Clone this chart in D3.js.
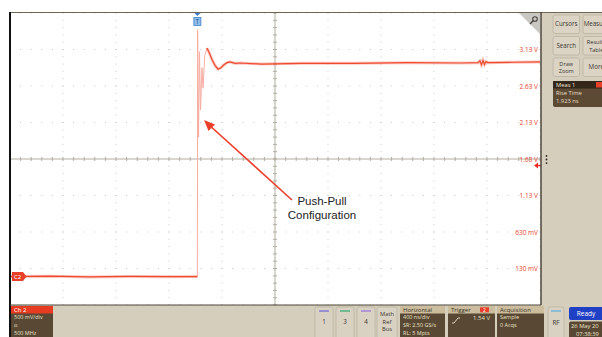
<!DOCTYPE html>
<html>
<head>
<meta charset="utf-8">
<script src="https://cdn.jsdelivr.net/npm/d3@7"></script>
<style>
  html, body { margin: 0; padding: 0; background: #ffffff; }
  svg { display: block; }
  text { font-family: "Open Sans", "DejaVu Sans", sans-serif; }
  text.note { font-family: "Liberation Sans", Arial, sans-serif; }
</style>
</head>
<body>
<svg id="scope" width="602" height="337"></svg>
<script>
// ---- Channel 2 acquisition (time in ns, relative to screen centre; volts) ----
const lowTime   = [-2000, -1700, -1400, -1100, -800, -600, -586];
const lowVolts  = [0.020, 0.025, 0.015, 0.022, 0.018, 0.020, 0.020];

// fast edge + first ringing (dim persistence)
const edgeTime  = [-586, -584, -577, -570, -562, -551, -543, -530, -513];
const edgeVolts = [0.020, 3.40, 1.93, 3.10, 2.30, 2.88, 2.60, 3.05, 3.15];

// settled level
const highTime  = [-513, -495, -475, -452, -430, -408, -385, -362, -340, -300, -264, -100, 200, 600, 1000, 1400, 1532, 1547, 1558, 1570, 1581, 1592, 1607, 1800, 2000];
const highVolts = [3.15, 3.08, 2.99, 2.91, 2.86, 2.88, 2.92, 2.95, 2.96, 2.94, 2.945, 2.93, 2.94, 2.94, 2.95, 2.945, 2.95, 2.975, 2.92, 2.98, 2.925, 2.965, 2.95, 2.955, 2.96];

// vertical graticule labels (500 mV/div, centre 1.63 V)
const voltTicks  = [3.13, 2.63, 2.13, 1.63, 1.13, 0.63, 0.13];
const voltLabels = ["3.13 V", "2.63 V", "2.13 V", "1.63 V", "1.13 V", "630 mV", "130 mV"];

const triggerTime = -586;   // ns
const triggerLevel = 1.54;  // V

// readouts
const sideButtons = [["Cursors"], ["Measure"], ["Search"], ["Results", "Table"], ["Draw", "Zoom"], ["More"]];
const measLines   = ["Meas 1", "Rise Time", "1.923 ns"];
const ch2Lines    = ["Ch 2", "500 mV/div", "⍝", "500 MHz"];
const horizLines  = ["Horizontal", "400 ns/div", "SR: 2.50 GS/s", "RL: 5 Mpts"];
const acqLines    = ["Acquisition", "Sample", "0 Acqs"];
const chanButtons = [{label: "1", color: "#6f63d8"}, {label: "3", color: "#2fa871"}, {label: "4", color: "#9a6fe0"}];

// ---- layout ----
const svg = d3.select("#scope");
const W = 602, H = 337;
const plot = {left: 10, right: 540, top: 13, bottom: 305};

const x = d3.scaleLinear().domain([-2000, 2000]).range([plot.left, plot.right]);
const y = d3.scaleLinear().domain([1.63 - 2.0, 1.63 + 2.0]).range([plot.bottom, plot.top]);

const traceColor = "#ee4a2e";
const panelBg = "#d5cebd";
const brown = "#594834";

// background panels
svg.append("rect").attr("x", 0).attr("y", 0).attr("width", W).attr("height", H).attr("fill", "#ffffff");
svg.append("rect").attr("x", plot.left).attr("y", plot.bottom).attr("width", W - plot.left).attr("height", H - plot.bottom).attr("fill", panelBg);
svg.append("rect").attr("x", plot.right + 1).attr("y", 12).attr("width", W - plot.right - 1).attr("height", plot.bottom - 12).attr("fill", panelBg);

// ---- graticule ----
const g = svg.append("g");
const majorT = d3.range(-2000, 2001, 400);
const minorT = d3.range(-2000, 2001, 80);
const majorV = d3.range(-0.37, 3.64, 0.5);
const minorV = d3.range(-0.37, 3.64, 0.1);

// dotted division lines
majorV.forEach(v => {
  if (Math.abs(v - 1.63) < 1e-6) return;
  minorT.forEach(t => {
    g.append("rect").attr("x", x(t) - 0.5).attr("y", y(v) - 0.5).attr("width", 1).attr("height", 1).attr("fill", "#c9c9c9");
  });
});
majorT.forEach(t => {
  if (t === 0) return;
  minorV.forEach(v => {
    g.append("rect").attr("x", x(t) - 0.5).attr("y", y(v) - 0.5).attr("width", 1).attr("height", 1).attr("fill", "#c9c9c9");
  });
});
// centre cross with minor ticks
g.append("line").attr("x1", plot.left).attr("x2", plot.right).attr("y1", y(1.63)).attr("y2", y(1.63)).attr("stroke", "#b3ada0").attr("stroke-width", 1);
g.append("line").attr("x1", x(0)).attr("x2", x(0)).attr("y1", plot.top).attr("y2", plot.bottom).attr("stroke", "#b3ada0").attr("stroke-width", 1);
minorT.forEach(t => {
  g.append("line").attr("x1", x(t)).attr("x2", x(t)).attr("y1", y(1.63) - 2).attr("y2", y(1.63) + 2).attr("stroke", "#b3ada0");
});
minorV.forEach(v => {
  g.append("line").attr("x1", x(0) - 2).attr("x2", x(0) + 2).attr("y1", y(v)).attr("y2", y(v)).attr("stroke", "#b3ada0");
});

// ---- waveform ----
const line = d3.line().x(d => x(d[0])).y(d => y(d[1]));
const lowPts  = d3.zip(lowTime, lowVolts);
const edgePts = d3.zip(edgeTime, edgeVolts);
const highPts = d3.zip(highTime, highVolts);

svg.append("path").attr("d", line(edgePts)).attr("fill", "none").attr("stroke", "#f7aea2").attr("stroke-width", 1);
[lowPts, highPts].forEach(pts => {
  svg.append("path").attr("d", line(pts)).attr("fill", "none").attr("stroke", traceColor).attr("stroke-opacity", 0.3).attr("stroke-width", 3);
  svg.append("path").attr("d", line(pts)).attr("fill", "none").attr("stroke", traceColor).attr("stroke-width", 1.2);
});

// ---- volt labels ----
svg.append("g").selectAll("text").data(voltTicks).join("text")
  .attr("x", 538).attr("y", d => y(d) + 2.5)
  .attr("text-anchor", "end").attr("font-size", 6.5).attr("fill", "#e8442c")
  .text((d, i) => voltLabels[i]);

// trigger level marker
const ty = y(triggerLevel);
svg.append("path").attr("d", `M${plot.right - 6},${ty} L${plot.right - 2},${ty - 3} L${plot.right - 2},${ty + 3} Z M${plot.right - 3},${ty - 0.7} h4 v1.4 h-4 Z`).attr("fill", "#e8302a");

// trigger position marker
const tx = x(triggerTime);
svg.append("path").attr("d", `M${tx - 3},${plot.top} L${tx + 3},${plot.top} L${tx},${plot.top + 3} Z`).attr("fill", "#3b7fd0");
svg.append("rect").attr("x", tx - 3.5).attr("y", plot.top + 4.5).attr("width", 7).attr("height", 8).attr("fill", "#8fbde9").attr("stroke", "#3b7fd0").attr("stroke-width", 0.8);
svg.append("text").attr("x", tx).attr("y", plot.top + 11).attr("text-anchor", "middle").attr("font-size", 6.5).attr("fill", "#1f4f9a").text("T");

// channel ground marker
const cy = y(lowVolts[0]);
svg.append("path").attr("d", `M12,${cy - 4.5} h11 l3.5,4.5 l-3.5,4.5 h-11 Z`).attr("fill", "#e8402a");
svg.append("text").attr("x", 17.5).attr("y", cy + 2.3).attr("text-anchor", "middle").attr("font-size", 6).attr("fill", "#ffffff").text("C2");

// zoom corner
svg.append("path").attr("d", `M${plot.right - 21},${plot.top} L${plot.right},${plot.top} L${plot.right},${plot.top + 21} Z`).attr("fill", "#c9c7c2");
svg.append("circle").attr("cx", plot.right - 5).attr("cy", plot.top + 6).attr("r", 2.3).attr("fill", "none").attr("stroke", "#4a4540").attr("stroke-width", 1.1);
svg.append("line").attr("x1", plot.right - 6.6).attr("y1", plot.top + 7.6).attr("x2", plot.right - 10).attr("y2", plot.top + 11).attr("stroke", "#4a4540").attr("stroke-width", 1.4);

// ---- annotation ----
const ann = svg.append("g");
ann.append("line").attr("x1", 292).attr("y1", 200).attr("x2", 208).attr("y2", 124).attr("stroke", "#eb3f2b").attr("stroke-width", 1.6);
ann.append("path").attr("d", "M204,120 L215,124.5 L208.5,131 Z").attr("fill", "#eb3f2b");
ann.append("text").attr("class", "note").attr("x", 322).attr("y", 205).attr("text-anchor", "middle").attr("font-size", 11.5).attr("fill", "#222").text("Push-Pull");
ann.append("text").attr("class", "note").attr("x", 322).attr("y", 219).attr("text-anchor", "middle").attr("font-size", 11.5).attr("fill", "#222").text("Configuration");

// ---- frame ----
svg.append("line").attr("x1", plot.left).attr("x2", W).attr("y1", 12.5).attr("y2", 12.5).attr("stroke", "#6f6656").attr("stroke-width", 1);
svg.append("line").attr("x1", 10).attr("x2", 10).attr("y1", 12).attr("y2", H).attr("stroke", "#111").attr("stroke-width", 2);
svg.append("line").attr("x1", plot.right + 1).attr("x2", plot.right + 1).attr("y1", 12).attr("y2", plot.bottom).attr("stroke", "#4d463b").attr("stroke-width", 1.5);
svg.append("line").attr("x1", plot.left).attr("x2", plot.right + 1).attr("y1", plot.bottom).attr("y2", plot.bottom).attr("stroke", "#4d463b").attr("stroke-width", 1);

// ---- side panel ----
const side = svg.append("g");
sideButtons.forEach((b, i) => {
  const col = i % 2, row = Math.floor(i / 2);
  const bx = 553 + col * 30, by = 15 + row * 21.5, bw = 26.5, bh = 18.5;
  side.append("rect").attr("x", bx).attr("y", by).attr("width", bw).attr("height", bh).attr("rx", 2).attr("fill", "#dbd4c5").attr("stroke", "#bdb4a2").attr("stroke-width", 0.8);
  const fs = b.length > 1 ? 5.6 : 6.2;
  b.forEach((t, k) => {
    side.append("text").attr("x", bx + bw / 2).attr("y", by + bh / 2 + 2.2 + (k - (b.length - 1) / 2) * 7.6)
      .attr("text-anchor", "middle").attr("font-size", fs).attr("fill", "#3a3530").text(t);
  });
});
side.append("rect").attr("x", 553).attr("y", 81).attr("width", 52).attr("height", 26).attr("rx", 2).attr("fill", "#5c4a35");
side.append("rect").attr("x", 553).attr("y", 81).attr("width", 52).attr("height", 7.5).attr("fill", "#33261a");
side.append("rect").attr("x", 596).attr("y", 82).attr("width", 8).attr("height", 5.5).attr("fill", "#e8402a");
measLines.forEach((t, k) => {
  side.append("text").attr("x", 556).attr("y", 87 + k * 8).attr("font-size", 5.8).attr("fill", k === 0 ? "#f2ead8" : "#eadfc6").text(t);
});
// handle dots
[0, 1, 2].forEach(k => side.append("circle").attr("cx", 546.5).attr("cy", 159.5 + (k - 1) * 3.6).attr("r", 0.9).attr("fill", "#2a2520"));

// ---- bottom bar ----
const bot = svg.append("g");
function readout(bx, bw, lines, headColor, headText) {
  bot.append("rect").attr("x", bx).attr("y", 306).attr("width", bw).attr("height", 31).attr("fill", brown);
  bot.append("rect").attr("x", bx).attr("y", 306).attr("width", bw).attr("height", 7.5).attr("fill", headColor);
  bot.append("text").attr("x", bx + 3).attr("y", 312).attr("font-size", 6).attr("fill", headText).text(lines[0]);
  lines.slice(1).forEach((t, k) => {
    bot.append("text").attr("x", bx + 3).attr("y", 319.2 + k * 7.7).attr("font-size", 5.5).attr("fill", "#ece2c8").text(t);
  });
}
readout(11, 42, ch2Lines, "#e63c22", "#ffffff");
readout(400, 45, horizLines, "#cbbd9e", "#3a3024");
readout(448, 47, ["Trigger"], "#cbbd9e", "#3a3024");
readout(497, 47, acqLines, "#cbbd9e", "#3a3024");
// trigger readout body
bot.append("rect").attr("x", 480).attr("y", 307.3).attr("width", 9).attr("height", 5).attr("fill", "#e8402a");
bot.append("text").attr("x", 484.5).attr("y", 311.6).attr("text-anchor", "middle").attr("font-size", 5).attr("fill", "#fff").text("2");
bot.append("path").attr("d", "M452,323 h2 l4,-5 h2").attr("fill", "none").attr("stroke", "#ece2c8").attr("stroke-width", 0.9);
bot.append("text").attr("x", 490).attr("y", 320).attr("text-anchor", "end").attr("font-size", 6).attr("fill", "#ece2c8").text(triggerLevel.toFixed(2) + " V");

// channel buttons
chanButtons.forEach((c, i) => {
  const bx = 315 + i * 21;
  bot.append("rect").attr("x", bx).attr("y", 307).attr("width", 18).attr("height", 32).attr("rx", 2).attr("fill", "#d9d2c3").attr("stroke", "#bdb4a2").attr("stroke-width", 0.8);
  bot.append("line").attr("x1", bx + 4).attr("x2", bx + 14).attr("y1", 311).attr("y2", 311).attr("stroke", c.color).attr("stroke-width", 1.2);
  bot.append("text").attr("x", bx + 9).attr("y", 324).attr("text-anchor", "middle").attr("font-size", 6.3).attr("fill", "#3a3530").text(c.label);
});
bot.append("rect").attr("x", 377).attr("y", 307).attr("width", 20).attr("height", 32).attr("rx", 2).attr("fill", "#d9d2c3").attr("stroke", "#bdb4a2").attr("stroke-width", 0.8);
["Math", "Ref", "Bus"].forEach((t, k) => bot.append("text").attr("x", 387).attr("y", 316 + k * 7.5).attr("text-anchor", "middle").attr("font-size", 5.8).attr("fill", "#3a3530").text(t));

// RF button
bot.append("rect").attr("x", 548).attr("y", 307).attr("width", 16).attr("height", 32).attr("rx", 2).attr("fill", "#d9d2c3").attr("stroke", "#bdb4a2").attr("stroke-width", 0.8);
bot.append("line").attr("x1", 551).attr("x2", 561).attr("y1", 311).attr("y2", 311).attr("stroke", "#5aaede").attr("stroke-width", 1.2);
bot.append("text").attr("x", 556).attr("y", 325).attr("text-anchor", "middle").attr("font-size", 6.3).attr("fill", "#3a3530").text("RF");

// status
bot.append("rect").attr("x", 569).attr("y", 307).attr("width", 40).attr("height", 13).attr("rx", 2).attr("fill", "#1f3fc4");
bot.append("text").attr("x", 586).attr("y", 316).attr("text-anchor", "middle").attr("font-size", 6.5).attr("fill", "#ffffff").text("Ready");
bot.append("rect").attr("x", 569).attr("y", 321.5).attr("width", 40).attr("height", 17).attr("rx", 2).attr("fill", brown);
bot.append("text").attr("x", 571).attr("y", 327.5).attr("font-size", 5.8).attr("fill", "#ece2c8").text("26 May 20");
bot.append("text").attr("x", 576).attr("y", 335.5).attr("font-size", 5.8).attr("fill", "#ece2c8").text("07:38:39");
</script>
</body>
</html>
